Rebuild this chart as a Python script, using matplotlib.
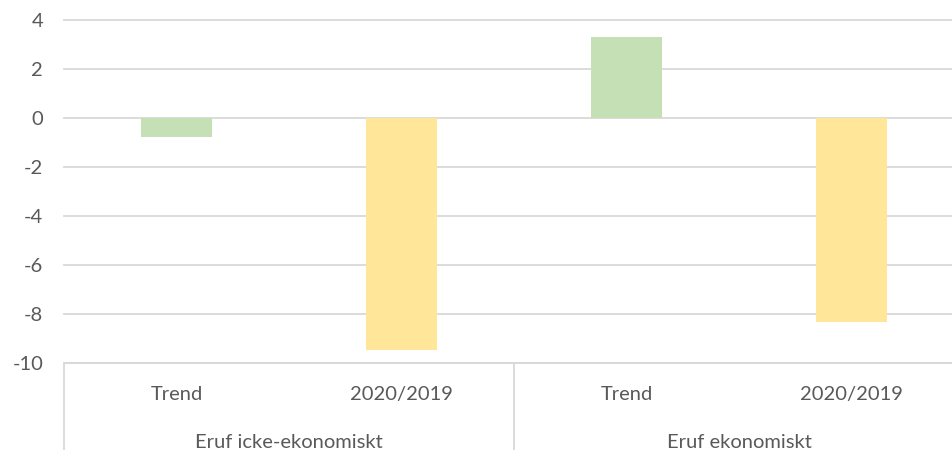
import matplotlib.pyplot as plt
import matplotlib.transforms as mtransforms

plt.rcParams['font.family'] = ['Lato', 'DejaVu Sans']
plt.rcParams['axes.unicode_minus'] = False


def plot_change(data):
    """ Plot the bar chart with a two-level category axis. """
    fig = plt.figure(figsize=(9.53, 4.5), dpi=100)
    # axes runs a bit past the right edge, like the original export
    ax = fig.add_axes([64 / 953, 1 - 363 / 450, 900 / 953, 343 / 450])

    x = list(range(len(data['value'])))
    ax.bar(x, data['value'], width=0.316, color=data['color'], zorder=2)

    ax.set_xlim(-0.5, len(x) - 0.5)
    ax.set_ylim(-10, 4)
    ax.set_yticks(range(-10, 5, 2))
    ax.yaxis.grid(True, color='#D9D9D9', linewidth=1.3, zorder=0)
    for line in ax.get_ygridlines():
        line.set_clip_on(False)
    ax.tick_params(axis='y', length=0, pad=15, labelsize=14.5, labelcolor='#595959')
    ax.tick_params(axis='x', length=0, labelbottom=False)
    for side in ['top', 'right', 'left']:
        ax.spines[side].set_visible(False)
    ax.spines['bottom'].set_color('#D9D9D9')
    ax.spines['bottom'].set_linewidth(1.3)

    # Category labels below the axis
    trans = mtransforms.blended_transform_factory(ax.transData, ax.transAxes)
    for xi, lab in zip(x, data['label']):
        ax.text(xi, -0.092, lab, transform=trans, ha='center', va='center',
                fontsize=14.5, color='#595959')
    for i, grp in enumerate(data['group']):
        ax.text(2 * i + 0.5, -0.232, grp, transform=trans, ha='center', va='center',
                fontsize=14.5, color='#595959')
    for xv in [-0.5, 1.5, 3.5]:
        ax.plot([xv, xv], [0, -0.26], transform=trans, color='#D9D9D9',
                linewidth=1.3, clip_on=False)

    plt.savefig('out.png', dpi=100)


def main():
    data = {
        'label': ['Trend', '2020/2019', 'Trend', '2020/2019'],
        'value': [-0.76, -9.47, 3.32, -8.33],
        'color': ['#C5E0B4', '#FFE699', '#C5E0B4', '#FFE699'],
        'group': ['Eruf icke-ekonomiskt', 'Eruf ekonomiskt'],
    }
    plot_change(data)


if __name__ == "__main__":
    main()
